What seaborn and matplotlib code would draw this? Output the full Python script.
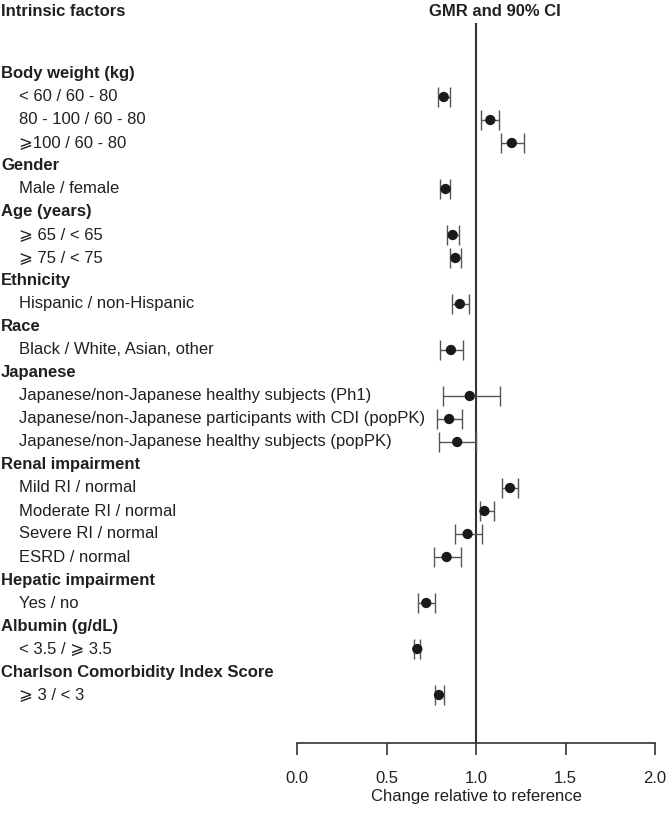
import numpy as np
import pandas as pd
import matplotlib
matplotlib.use("Agg")
import matplotlib.pyplot as plt
import matplotlib.transforms as mtransforms
import seaborn as sns

headers = ["Body weight (kg)", "Gender", "Age (years)", "Ethnicity", "Race", "Japanese",
           "Renal impairment", "Hepatic impairment", "Albumin (g/dL)",
           "Charlson Comorbidity Index Score"]
group_sizes = [3, 1, 2, 1, 1, 3, 4, 1, 1, 1]
items = ["< 60 / 60 - 80", "80 - 100 / 60 - 80", "\u2a7e100 / 60 - 80",
         "Male / female",
         "\u2a7e 65 / < 65", "\u2a7e 75 / < 75",
         "Hispanic / non-Hispanic",
         "Black / White, Asian, other",
         "Japanese/non-Japanese healthy subjects (Ph1)",
         "Japanese/non-Japanese participants with CDI (popPK)",
         "Japanese/non-Japanese healthy subjects (popPK)",
         "Mild RI / normal", "Moderate RI / normal", "Severe RI / normal", "ESRD / normal",
         "Yes / no",
         "< 3.5 / \u2a7e 3.5",
         "\u2a7e 3 / < 3"]
gmr = [0.82, 1.08, 1.20, 0.83, 0.87, 0.885, 0.91, 0.86, 0.965, 0.85, 0.895,
       1.19, 1.047, 0.953, 0.836, 0.722, 0.672, 0.793]
ci_low = [0.79, 1.03, 1.14, 0.80, 0.84, 0.855, 0.865, 0.80, 0.815, 0.78, 0.795,
          1.145, 1.02, 0.88, 0.765, 0.676, 0.652, 0.771]
ci_high = [0.855, 1.127, 1.268, 0.857, 0.903, 0.916, 0.96, 0.927, 1.136, 0.922, 1.0,
           1.237, 1.099, 1.032, 0.915, 0.769, 0.689, 0.821]
x_ticks = [0.0, 0.5, 1.0, 1.5, 2.0]

sns.set_theme(style="white")
plt.rcParams["font.family"] = ["Liberation Sans", "DejaVu Sans"]
TXT = "#231f20"
FS = 12

# row layout: header line followed by its items
header_pos, item_pos = [], []
pos = 0
for size in group_sizes:
    header_pos.append(pos)
    pos += 1
    for _ in range(size):
        item_pos.append(pos)
        pos += 1

df = pd.DataFrame({"label": items, "gmr": gmr, "lo": ci_low, "hi": ci_high, "row": item_pos})

fig = plt.figure(figsize=(6.66, 8.16), dpi=100)
ax = fig.add_axes([297 / 666, 1 - 743 / 816, 358 / 666, 720 / 816])

ax.axvline(1.0, color="#333333", lw=1.5, zorder=1)
ax.errorbar(df["gmr"], df["row"], xerr=[df["gmr"] - df["lo"], df["hi"] - df["gmr"]],
            fmt="none", ecolor="#555555", elinewidth=1.0, capsize=7, capthick=1.0, zorder=2)
sns.scatterplot(data=df, x="gmr", y="row", ax=ax, color="#1a1a1a", s=55,
                edgecolor="none", zorder=3)

ax.set_xlim(0, 2)
ax.set_ylim((743 - 74) / 23, (23 - 74) / 23)
ax.set_xticks(x_ticks)
ax.set_xticklabels([f"{t:.1f}" for t in x_ticks], fontsize=FS, color=TXT)
ax.set_yticks([])
ax.set_ylabel("")
ax.set_xlabel("Change relative to reference", fontsize=FS, color=TXT, labelpad=2)
for side in ["top", "right", "left"]:
    ax.spines[side].set_visible(False)
ax.spines["bottom"].set_color("#333333")
ax.spines["bottom"].set_linewidth(1.2)
ax.tick_params(axis="x", bottom=True, direction="out", length=8.6, width=1.2,
               color="#333333", pad=11.5)

trans = mtransforms.blended_transform_factory(fig.transFigure, ax.transData)
for h, p in zip(headers, header_pos):
    ax.text(1 / 666, p, h, transform=trans, fontsize=FS, fontweight="bold",
            color=TXT, va="center", ha="left", clip_on=False)
for lab, p in zip(items, item_pos):
    ax.text(19 / 666, p, lab, transform=trans, fontsize=FS, color=TXT,
            va="center", ha="left", clip_on=False)

fig.text(1 / 666, 1 - 11 / 816, "Intrinsic factors", fontsize=FS, fontweight="bold",
         color=TXT, va="center", ha="left")
fig.text(495 / 666, 1 - 11 / 816, "GMR and 90% CI", fontsize=FS, fontweight="bold",
         color=TXT, va="center", ha="center")

fig.savefig("out.png", dpi=100)
plt.close(fig)
